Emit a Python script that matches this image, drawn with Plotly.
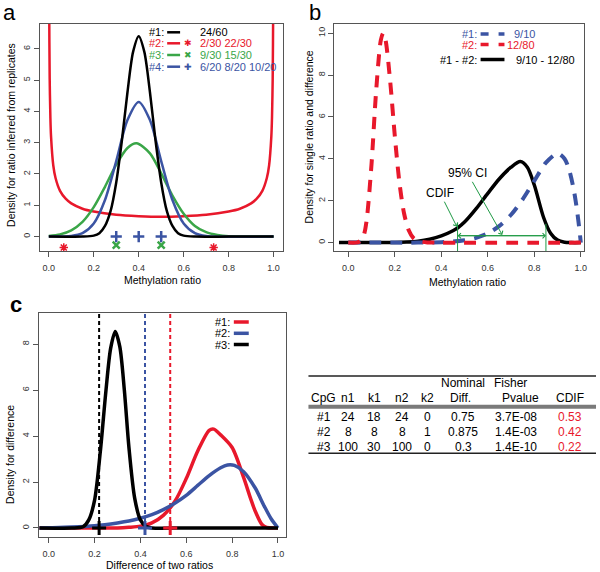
import plotly.graph_objects as go

W, H = 600, 572
def px(x): return x / W
def py(y): return 1 - y / H

RED = '#e8182b'
BLUE = '#3b54a3'
GREEN = '#3aa648'
BLACK = '#000000'
CIGREEN = '#1f9a45'
FONT = 'Liberation Sans, Arial, Helvetica, sans-serif'

# ---------------- Panel a: density of ratio inferred from replicates ----------------
a_x_red = [0.001, 0.002, 0.004, 0.007, 0.01, 0.02, 0.03, 0.05, 0.075, 0.1, 0.15, 0.2, 0.3, 0.4, 0.5,
           0.6, 0.7, 0.8, 0.85, 0.9, 0.925, 0.95, 0.97, 0.98, 0.99, 0.993, 0.996, 0.998, 0.999]
a_y_red = [10.1, 7.12, 5.04, 3.82, 3.20, 2.27, 1.87, 1.46, 1.21, 1.06, 0.89, 0.80, 0.695, 0.65, 0.63,
           0.65, 0.695, 0.80, 0.89, 1.06, 1.21, 1.46, 1.87, 2.27, 3.20, 3.82, 5.04, 7.12, 10.1]
a_x_green = [0.0, 0.05, 0.1, 0.15, 0.2, 0.25, 0.3, 0.35, 0.39, 0.45, 0.5, 0.55, 0.6, 0.65, 0.7, 0.75, 0.8, 0.9, 1.0]
a_y_green = [0.02, 0.07, 0.2, 0.47, 0.94, 1.59, 2.3, 2.83, 2.98, 2.66, 2.02, 1.31, 0.73, 0.34, 0.14, 0.05, 0.01, 0, 0]
a_x_blue = [0.0, 0.1, 0.15, 0.2, 0.25, 0.3, 0.35, 0.4, 0.45, 0.5, 0.55, 0.6, 0.65, 0.7, 1.0]
a_y_blue = [0, 0.02, 0.11, 0.42, 1.17, 2.41, 3.72, 4.3, 3.72, 2.41, 1.17, 0.42, 0.11, 0.02, 0]
a_x_black = [0.0, 0.15, 0.2, 0.225, 0.25, 0.275, 0.3, 0.325, 0.35, 0.375, 0.4, 0.425, 0.45,
             0.475, 0.5, 0.525, 0.55, 0.575, 0.6, 0.65, 0.8, 1.0]
a_y_black = [0, 0, 0.03, 0.11, 0.34, 0.82, 1.73, 3.06, 4.61, 5.9, 6.4, 5.9, 4.61,
             3.06, 1.73, 0.82, 0.34, 0.11, 0.03, 0, 0, 0]
# replicate ratios
rep2_x = [2/30, 22/30]; rep2_y = [-0.35, -0.35]
rep3_x = [9/30, 15/30]; rep3_y = [-0.27, -0.27]
rep4_x = [6/20, 8/20, 10/20]; rep4_y = [0, 0, 0]
a_legend = [('#1:', BLACK, '', '24/60'), ('#2:', RED, '✱', '2/30 22/30'),
            ('#3:', GREEN, '✖', '9/30 15/30'), ('#4:', BLUE, '✚', '6/20 8/20 10/20')]

# ---------------- Panel b: single ratios and their difference ----------------
b_x_blue = [0.0, 0.1, 0.2, 0.3, 0.4, 0.45, 0.5, 0.55, 0.6, 0.65, 0.7, 0.75, 0.8, 0.85, 0.9,
            0.93, 0.95, 0.97, 0.98, 0.99, 1.0]
b_y_blue = [0, 0, 0, 0, 0.02, 0.05, 0.11, 0.23, 0.44, 0.8, 1.33, 2.07, 2.95, 3.82, 4.26,
            4.01, 3.47, 2.51, 1.83, 1.0, 0]
b_x_red = [0.0, 0.04, 0.06, 0.07, 0.08, 0.1, 0.12, 0.14, 0.15, 0.16, 0.18, 0.2, 0.22, 0.24,
           0.26, 0.28, 0.3, 0.34, 0.4, 1.0]
b_y_red = [0, 0.01, 0.16, 0.48, 1.15, 3.75, 7.27, 9.67, 10.0, 9.69, 7.73, 5.11, 2.87, 1.39,
           0.59, 0.22, 0.08, 0.01, 0, 0]
b_x_diff = [-0.04, 0.1, 0.2, 0.25, 0.3, 0.35, 0.4, 0.45, 0.47, 0.5, 0.55, 0.6, 0.65, 0.7,
            0.74, 0.77, 0.8, 0.84, 0.87, 0.9, 0.93, 0.96, 1.0]
b_y_diff = [0, 0, 0.01, 0.03, 0.07, 0.16, 0.32, 0.57, 0.7, 0.98, 1.62, 2.35, 3.05, 3.6,
            3.87, 3.6, 2.75, 1.2, 0.45, 0.12, 0.02, 0, 0]
b_cdif = 0.47
b_ci_high = 0.85

# ---------------- Panel c: density for difference ----------------
c_x1 = [-0.04, 0.2, 0.3, 0.35, 0.4, 0.45, 0.5, 0.55, 0.6, 0.65, 0.7, 0.72, 0.75, 0.8, 0.85,
        0.88, 0.9, 0.93, 0.95, 1.0]
c_y1 = [0, 0, 0.0, 0.03, 0.08, 0.22, 0.55, 1.15, 2.15, 3.35, 4.25, 4.3, 4.05, 3.5, 2.2,
        1.3, 0.75, 0.15, 0.02, 0]
c_x2 = [-0.04, 0.0, 0.1, 0.2, 0.3, 0.35, 0.4, 0.45, 0.5, 0.55, 0.6, 0.65, 0.7, 0.75, 0.78,
        0.81, 0.85, 0.9, 0.94, 0.97, 1.0]
c_y2 = [0, 0.01, 0.04, 0.1, 0.22, 0.3, 0.42, 0.58, 0.8, 1.08, 1.42, 1.85, 2.28, 2.62, 2.74,
        2.72, 2.45, 1.75, 0.95, 0.4, 0]
c_x3 = [-0.04, 0.1, 0.15, 0.175, 0.2, 0.225, 0.25, 0.27, 0.29, 0.31, 0.33, 0.35, 0.375,
        0.4, 0.425, 0.45, 0.6, 1.0]
c_y3 = [0, 0, 0.05, 0.35, 1.2, 3.3, 6.0, 7.8, 8.55, 7.9, 6.0, 3.5, 1.3,
        0.35, 0.06, 0, 0, 0]
c_colors = [RED, BLUE, BLACK]
c_names = ['#1:', '#2:', '#3:']

# ---------------- Table ----------------
t_cpg = ['#1', '#2', '#3']
t_n1 = ['24', '8', '100']
t_k1 = ['18', '8', '30']
t_n2 = ['24', '8', '100']
t_k2 = ['0', '1', '0']
t_diff = ['0.75', '0.875', '0.3']
t_pval = ['3.7E-08', '1.4E-03', '1.4E-10']
t_cdif = [0.53, 0.42, 0.22]

fig = go.Figure()

def line(x, y, color, width, xa, ya, dash=None):
    fig.add_trace(go.Scatter(x=x, y=y, mode='lines', xaxis=xa, yaxis=ya, showlegend=False,
                             line=dict(color=color, width=width, shape='spline', smoothing=0.8,
                                       dash=dash), hoverinfo='skip'))

# panel a
line(a_x_red, a_y_red, RED, 2.5, 'x', 'y')
line(a_x_green, a_y_green, GREEN, 2.5, 'x', 'y')
line(a_x_blue, a_y_blue, BLUE, 2.5, 'x', 'y')
line(a_x_black, a_y_black, BLACK, 2.5, 'x', 'y')
fig.add_trace(go.Scatter(x=rep4_x, y=rep4_y, mode='markers', xaxis='x', yaxis='y', showlegend=False,
                         marker=dict(symbol='cross-thin-open', size=8, color=BLUE,
                                     line=dict(color=BLUE, width=2.5))))
fig.add_trace(go.Scatter(x=rep3_x, y=rep3_y, mode='markers', xaxis='x', yaxis='y', showlegend=False,
                         marker=dict(symbol='x-thin-open', size=7, color=GREEN,
                                     line=dict(color=GREEN, width=2.5))))
fig.add_trace(go.Scatter(x=rep2_x, y=rep2_y, mode='markers', xaxis='x', yaxis='y', showlegend=False,
                         marker=dict(symbol='asterisk-open', size=7, color=RED,
                                     line=dict(color=RED, width=1.5))))

# panel b
line(b_x_diff, b_y_diff, BLACK, 3.5, 'x2', 'y2')
line(b_x_blue, b_y_blue, BLUE, 4, 'x2', 'y2', dash='12px,9px')
line(b_x_red, b_y_red, RED, 4, 'x2', 'y2', dash='12px,9px')

# panel c
for xs, ys, col in [(c_x1, c_y1, RED), (c_x2, c_y2, BLUE), (c_x3, c_y3, BLACK)]:
    line(xs, ys, col, 3.5, 'x3', 'y3')
fig.add_trace(go.Scatter(x=t_cdif, y=[0, 0, 0], mode='markers', xaxis='x3', yaxis='y3', showlegend=False,
                         marker=dict(symbol='cross-thin-open', size=10, color=c_colors,
                                     line=dict(color=c_colors, width=3))))

shapes = []
annotations = []

# dashed CDIF lines in c
for v, col in zip(t_cdif, c_colors):
    shapes.append(dict(type='line', xref='x3', yref='y3', x0=v, x1=v, y0=0, y1=9.34,
                       line=dict(color=col, width=2, dash='4px,3px'), layer='below'))

# CI annotation lines in b
shapes.append(dict(type='line', xref='x2', yref='y2', x0=b_cdif, x1=b_cdif, y0=-0.4, y1=0.95,
                   line=dict(color=CIGREEN, width=1)))
shapes.append(dict(type='line', xref='x2', yref='y2', x0=b_ci_high, x1=b_ci_high, y0=-0.4, y1=0.9,
                   line=dict(color=CIGREEN, width=1)))
for tip, tail in [(b_ci_high, b_cdif), (b_cdif, b_ci_high)]:
    annotations.append(dict(xref='x2', yref='y2', axref='x2', ayref='y2', x=tip, y=0.33, ax=tail, ay=0.33,
                            text='', showarrow=True, arrowhead=4, arrowsize=1, arrowwidth=1,
                            arrowcolor=CIGREEN, standoff=0, startstandoff=0))
annotations.append(dict(xref='x2', yref='y2', axref='x2', ayref='y2', x=0.467, y=0.76, ax=0.395, ay=2.36,
                        text='CDIF', showarrow=True, arrowhead=4, arrowwidth=1, arrowcolor=CIGREEN,
                        font=dict(size=12, color='black', family=FONT)))
annotations.append(dict(xref='x2', yref='y2', axref='x2', ayref='y2', x=0.662, y=0.37, ax=0.513, ay=3.31,
                        text='95% CI', showarrow=True, arrowhead=4, arrowwidth=1, arrowcolor=CIGREEN,
                        font=dict(size=12, color='black', family=FONT)))

def txt(x, y, s, size=11, color='black', xanchor='center', angle=0, family=FONT, bold=False):
    if bold:
        s = '<b>' + s + '</b>'
    annotations.append(dict(xref='paper', yref='paper', x=px(x), y=py(y), text=s, showarrow=False,
                            xanchor=xanchor, yanchor='middle', textangle=angle,
                            font=dict(size=size, color=color, family=family)))

def seg(x0, x1, y, color, width, dash=None):
    shapes.append(dict(type='line', xref='paper', yref='paper', x0=px(x0), x1=px(x1), y0=py(y), y1=py(y),
                       line=dict(color=color, width=width, dash=dash)))

# panel letters
txt(10, 13, 'a', size=22)
txt(317, 13, 'b', size=22)
txt(16, 304, 'c', size=22, bold=True)

# axis titles
txt(163, 280, 'Methylation ratio', size=10.5)
txt(11, 135, 'Density for ratio inferred from replicates', size=10.5, angle=-90)
txt(470, 282, 'Methylation ratio', size=10.5)
txt(311, 137, 'Density for single ratio and difference', size=10.5, angle=-90)
txt(160, 565, 'Difference of two ratios', size=10.5)
txt(10, 454, 'Density for difference', size=10.5, angle=-90)

# legend a
for i, (lab, col, sym, vals) in enumerate(a_legend):
    yy = [32.3, 43.3, 55, 66.7][i]
    txt(167, yy, lab, color=col, xanchor='right')
    seg(168, 181, yy, col, 2.5)
    if sym:
        txt(189, yy, sym, size=9, color=col, family='DejaVu Sans')
    txt(199, yy, vals, color=col, xanchor='left')

# legend b
txt(481, 34, '#1:', color=BLUE, xanchor='right')
seg(483, 507, 34, BLUE, 3.5, dash='8px,10px')
txt(540, 34, '9/10', color=BLUE, xanchor='right')
txt(481, 44.5, '#2:', color=RED, xanchor='right')
seg(483, 507, 44.5, RED, 3.5, dash='8px,10px')
txt(540, 44.5, '12/80', color=RED, xanchor='right')
txt(481, 59.5, '#1 - #2:', color=BLACK, xanchor='right')
seg(483, 507, 59.5, BLACK, 3.5)
txt(517, 59.5, '9/10 - 12/80', color=BLACK, xanchor='left')

# legend c
for i, (lab, col) in enumerate(zip(c_names, c_colors)):
    yy = [322, 333.3, 344.5][i]
    txt(233, yy, lab, color=BLACK, xanchor='right')
    seg(235, 250, yy, col, 3.5)

# table
TS = 12
seg(310, 599, 376, '#222', 1.5)
seg(310, 599, 406.7, '#7a7a7a', 4)
seg(310, 599, 453.3, '#222', 1.5)
txt(465.7, 383.3, 'Nominal', size=TS)
txt(512.7, 383.3, 'Fisher', size=TS)
for x, s in [(325, 'CpG'), (350, 'n1'), (376, 'k1'), (404.5, 'n2'), (429.3, 'k2'),
             (463.3, 'Diff.'), (523.3, 'Pvalue'), (573, 'CDIF')]:
    txt(x, 398.3, s, size=TS)
row_y = [417.3, 431.7, 446.7]
for i in range(3):
    yy = row_y[i]
    txt(325.7, yy, t_cpg[i], size=TS)
    txt(350, yy, t_n1[i], size=TS)
    txt(376, yy, t_k1[i], size=TS)
    txt(404.5, yy, t_n2[i], size=TS)
    txt(429.3, yy, t_k2[i], size=TS)
    txt(465.5, yy, t_diff[i], size=TS)
    txt(518.3, yy, t_pval[i], size=TS)
    txt(572.5, yy, '%.2f' % t_cdif[i], size=TS, color=RED)

axis_common = dict(showgrid=False, zeroline=False, showline=True, mirror=True, linecolor='#555',
                   linewidth=1, ticks='outside', ticklen=5, tickcolor='#555', tickwidth=1,
                   tickfont=dict(size=9, color='#333', family=FONT), fixedrange=True)
xt = [0, 0.2, 0.4, 0.6, 0.8, 1.0]
xtt = ['0.0', '0.2', '0.4', '0.6', '0.8', '1.0']

fig.update_layout(
    width=W, height=H, autosize=False,
    margin=dict(l=0, r=0, t=0, b=0, pad=0),
    paper_bgcolor='white', plot_bgcolor='white', showlegend=False,
    xaxis=dict(domain=[px(40), px(284)], range=[-0.04, 1.04], anchor='y', tickvals=xt, ticktext=xtt,
               ticklabelstandoff=3, **axis_common),
    yaxis=dict(domain=[py(251), py(24)], range=[-0.46, 6.79], anchor='x', tickvals=list(range(7)),
               tickangle=-90, **axis_common),
    xaxis2=dict(domain=[px(336), px(587)], range=[-0.06, 1.014], anchor='y2', tickvals=xt, ticktext=xtt,
                ticklabelstandoff=3, **axis_common),
    yaxis2=dict(domain=[py(251), py(24)], range=[-0.4, 10.44], anchor='x2', tickvals=[0, 2, 4, 6, 8, 10],
                tickangle=-90, **axis_common),
    xaxis3=dict(domain=[px(39), px(287)], range=[-0.043, 1.033], anchor='y3', tickvals=xt, ticktext=xtt,
                ticklabelstandoff=3, **axis_common),
    yaxis3=dict(domain=[py(536.7), py(313.3)], range=[-0.38, 9.34], anchor='x3', tickvals=[0, 2, 4, 6, 8],
                tickangle=-90, **axis_common),
    shapes=shapes, annotations=annotations,
)

fig.write_html('out.html', post_script="document.body.style.margin='0';",
               config={'displayModeBar': False})
